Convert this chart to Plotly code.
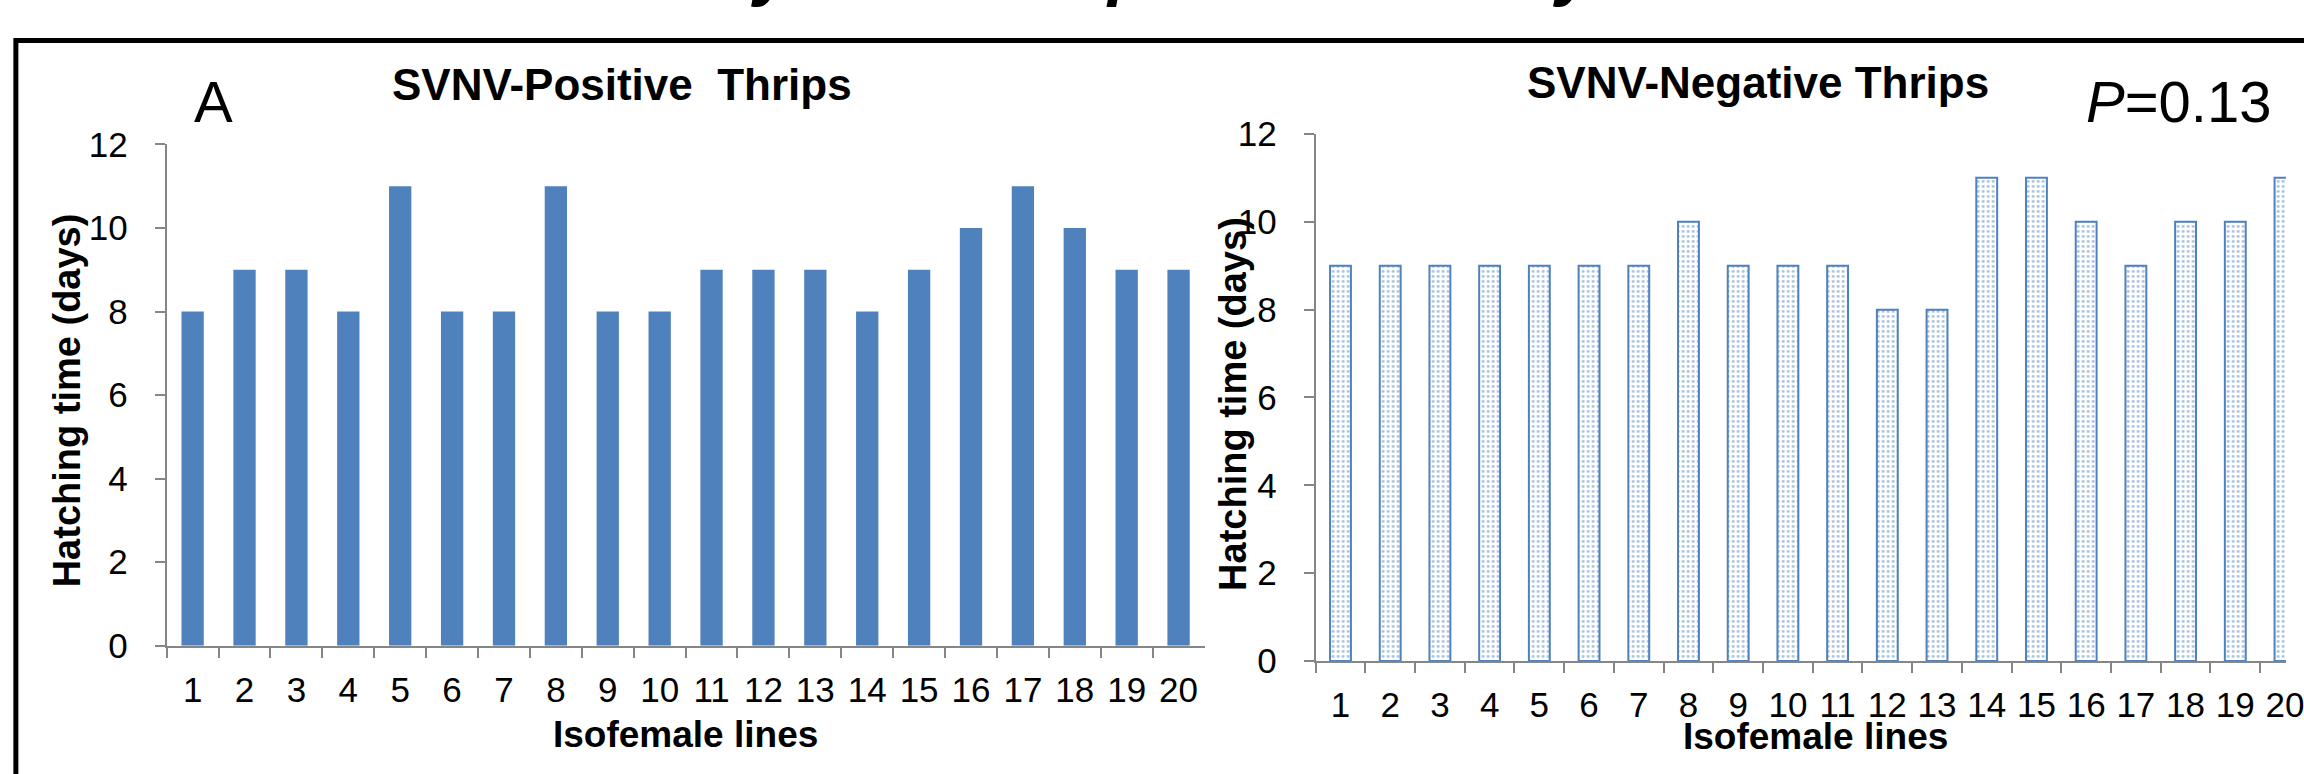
import plotly.graph_objects as go

# Isofemale line numbers and hatching times (days)
lines = [str(i) for i in range(1, 21)]
positive_days = [8, 9, 9, 8, 11, 8, 8, 11, 8, 8, 9, 9, 9, 8, 9, 10, 11, 10, 9, 9]
negative_days = [9, 9, 9, 9, 9, 9, 9, 10, 9, 9, 9, 8, 8, 11, 11, 10, 9, 10, 10, 11]
y_ticks = [0, 2, 4, 6, 8, 10, 12]

W, H = 2304, 774
BLUE = "#4F81BD"
AXIS = "#868686"
FONT = "Liberation Sans, Arial, sans-serif"


def px_x(x):
    return x / W


def px_y(y):
    return 1 - y / H


fig = go.Figure()

fig.add_trace(go.Bar(
    x=lines, y=positive_days, xaxis="x", yaxis="y", width=0.43,
    marker=dict(color=BLUE, line=dict(width=0)),
    showlegend=False,
))

fig.add_trace(go.Bar(
    x=lines, y=negative_days, xaxis="x2", yaxis="y2", width=0.42,
    marker=dict(
        color="white",
        line=dict(color=BLUE, width=2),
        pattern=dict(shape=".", fgcolor=BLUE, bgcolor="white", size=5, solidity=0.28),
    ),
    showlegend=False,
))

axis_common = dict(
    showline=True, linecolor=AXIS, linewidth=2,
    ticks="outside", ticklen=10, tickcolor=AXIS, tickwidth=2,
    showgrid=False, zeroline=False,
    tickfont=dict(family=FONT, size=35, color="black"),
)

fig.update_layout(
    width=W, height=H, autosize=False,
    margin=dict(l=0, r=0, t=0, b=0),
    paper_bgcolor="white", plot_bgcolor="white",
    xaxis=dict(axis_common, domain=[px_x(168), px_x(1214)], type="category",
               tickson="boundaries", range=[-0.5, 19.5], anchor="y",
               ticklabelstandoff=12),
    yaxis=dict(axis_common, domain=[px_y(659), px_y(131)], range=[0, 12],
               tickvals=y_ticks, anchor="x", ticklabelstandoff=20),
    # right panel runs past the page edge; last line sits on the edge
    xaxis2=dict(axis_common, domain=[px_x(1326), 1.0], type="category",
                tickson="boundaries", range=[-0.5, 19.02], anchor="y2",
                ticklabelstandoff=12),
    yaxis2=dict(axis_common, domain=[px_y(675), px_y(120)], range=[0, 12],
                tickvals=y_ticks, anchor="x2", ticklabelstandoff=20),
)

# Outer frame, running off the right and bottom edges
fig.add_shape(type="rect", xref="paper", yref="paper",
              x0=px_x(16), x1=px_x(W + 40), y0=px_y(H + 40), y1=px_y(21.5),
              line=dict(color="black", width=5), fillcolor="rgba(0,0,0,0)", layer="above")


def note(text, x, y, size, bold=False, xanchor="center", angle=0):
    fig.add_annotation(
        text=text, xref="paper", yref="paper", x=px_x(x), y=px_y(y),
        xanchor=xanchor, yanchor="middle", showarrow=False, textangle=angle,
        font=dict(family=FONT, size=size, color="black",
                  weight="bold" if bold else "normal"),
    )


# Overhanging figure heading above the frame
for ch, cx in [("y", 780), ("p", 1137), ("y", 1588)]:
    fig.add_annotation(
        text=ch, xref="paper", yref="paper", x=px_x(cx), y=px_y(-12),
        xanchor="center", yanchor="bottom", showarrow=False,
        font=dict(family=FONT, size=70, color="black", weight="bold", style="italic"),
    )

note("A", 215, 86, 58)
note("SVNV-Positive  Thrips", 393, 67.5, 44, bold=True, xanchor="left")
note("SVNV-Negative Thrips", 1537, 66, 44, bold=True, xanchor="left")
note("<i>P</i>=0.13", 2196, 86, 58)

note("Hatching time (days)", 67, 400, 38, bold=True, angle=-90)
note("Hatching time (days)", 1242, 404, 38, bold=True, angle=-90)
note("Isofemale lines", 691, 752, 37, bold=True)
note("Isofemale lines", 1830, 754, 37, bold=True)

fig.write_html("out.html")
